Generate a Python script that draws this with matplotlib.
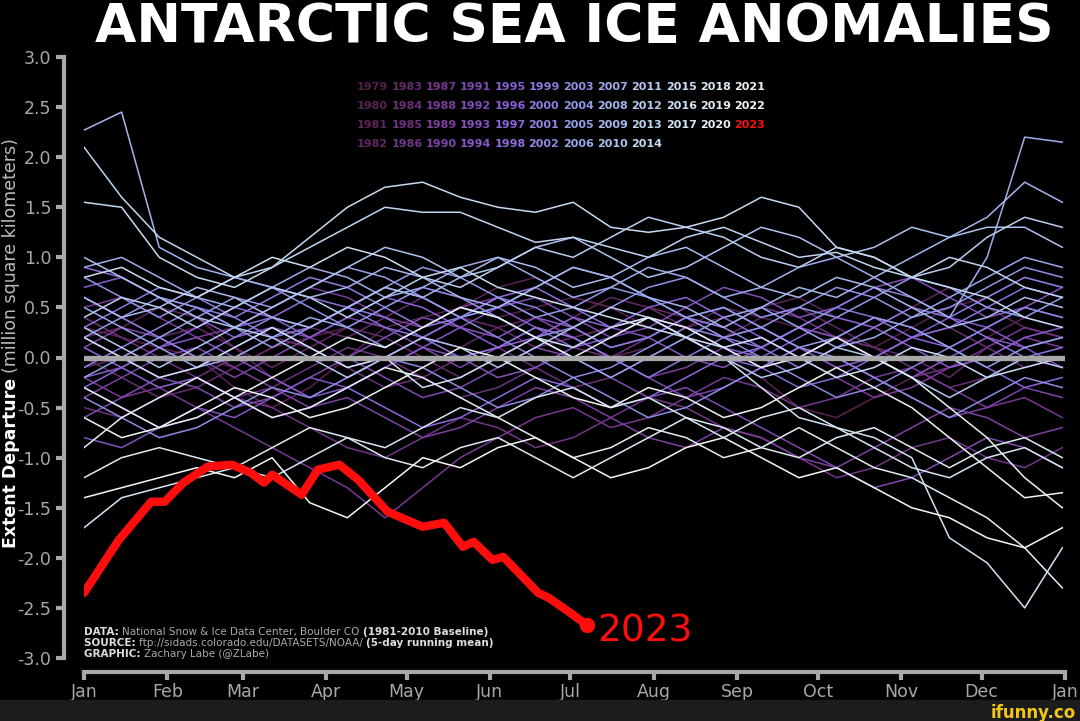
import matplotlib.pyplot as plt
import numpy as np
from matplotlib.colors import LinearSegmentedColormap

# day of year for the sampled values (every 14 days)
days = np.arange(0, 365, 14)

a1979 = [0.3,0.2,0.1,0.0,-0.1,0.1,0.2,0.3,0.5,0.7,0.6,0.4,0.5,0.6,0.5,0.4,0.3,0.5,0.4,0.3,0.2,0.1,0.3,0.5,0.6,0.8,0.7]
a1980 = [0.6,0.4,0.2,0.0,-0.3,-0.5,-0.3,0.0,0.3,0.4,0.5,0.7,0.8,0.6,0.5,0.3,0.2,0.0,-0.2,-0.5,-0.6,-0.4,-0.2,0.0,0.2,0.4,0.3]
a1981 = [0.2,0.3,0.5,0.4,0.1,-0.2,-0.4,-0.2,0.0,0.2,0.1,0.3,0.4,0.2,0.0,0.1,0.3,0.4,0.5,0.6,0.4,0.3,0.5,0.7,0.5,0.3,0.2]
a1982 = [-0.1,0.0,0.2,0.3,0.1,-0.1,0.1,0.3,0.2,0.0,-0.2,0.0,0.2,0.4,0.6,0.5,0.3,0.2,0.4,0.5,0.3,0.1,0.0,-0.2,0.1,0.3,0.2]
a1983 = [0.0,-0.2,-0.4,-0.3,-0.1,0.1,0.3,0.2,0.4,0.6,0.4,0.3,0.1,0.2,0.3,0.5,0.4,0.2,0.3,0.1,-0.1,0.0,0.2,0.3,0.1,-0.1,0.0]
a1984 = [-0.5,-0.6,-0.4,-0.2,0.0,0.2,0.1,-0.1,-0.3,-0.2,0.0,0.1,-0.1,-0.3,-0.2,0.0,0.2,0.1,-0.1,0.0,0.2,0.1,-0.1,-0.3,-0.2,0.0,-0.1]
a1985 = [0.4,0.2,0.0,-0.2,-0.4,-0.3,-0.1,0.1,0.0,-0.2,-0.4,-0.3,-0.1,0.1,0.0,0.2,0.4,0.3,0.5,0.4,0.2,0.0,-0.2,-0.1,0.1,0.3,0.2]
a1986 = [-0.3,-0.5,-0.7,-0.6,-0.4,-0.5,-0.7,-0.9,-1.0,-0.8,-0.6,-0.7,-0.9,-0.8,-0.6,-0.4,-0.5,-0.7,-0.8,-1.0,-1.2,-1.1,-0.9,-0.8,-1.0,-1.1,-0.9]
a1987 = [-0.2,-0.4,-0.3,-0.5,-0.7,-0.9,-1.1,-1.3,-1.6,-1.3,-1.0,-0.8,-0.6,-0.5,-0.7,-0.6,-0.4,-0.2,-0.3,-0.5,-0.4,-0.2,-0.1,-0.3,-0.5,-0.4,-0.6]
a1988 = [0.5,0.6,0.4,0.2,0.3,0.5,0.7,0.6,0.4,0.3,0.5,0.6,0.4,0.2,0.0,-0.2,-0.1,0.1,0.2,0.0,-0.2,-0.4,-0.3,-0.1,0.0,0.2,0.1]
a1989 = [-0.4,-0.2,0.0,0.1,-0.1,-0.3,-0.5,-0.4,-0.6,-0.8,-0.7,-0.5,-0.3,-0.4,-0.6,-0.8,-0.9,-0.7,-0.8,-1.0,-1.1,-0.9,-0.7,-0.5,-0.6,-0.8,-0.7]
a1990 = [0.1,0.3,0.2,0.0,-0.2,0.0,0.2,0.4,0.3,0.1,-0.1,0.1,0.3,0.2,0.0,-0.2,-0.4,-0.3,-0.1,0.1,0.0,-0.2,-0.4,-0.6,-0.5,-0.3,-0.4]
a1991 = [-0.6,-0.4,-0.2,-0.3,-0.5,-0.4,-0.2,0.0,-0.2,-0.4,-0.3,-0.1,0.1,0.0,-0.2,-0.4,-0.3,-0.5,-0.7,-0.9,-1.1,-1.3,-1.2,-1.0,-0.8,-0.9,-1.1]
a1992 = [0.2,0.0,-0.2,-0.1,0.1,0.3,0.2,0.0,0.2,0.4,0.3,0.5,0.6,0.4,0.2,0.3,0.5,0.7,0.6,0.4,0.5,0.7,0.8,0.6,0.4,0.5,0.7]
a1993 = [-0.8,-0.9,-0.7,-0.5,-0.6,-0.4,-0.2,-0.3,-0.1,0.1,0.0,-0.2,-0.1,0.1,0.3,0.2,0.0,-0.1,0.1,0.3,0.2,0.0,-0.2,0.0,0.2,0.1,-0.1]
a1994 = [-0.2,-0.1,0.1,0.2,0.0,-0.2,-0.4,-0.3,-0.1,0.1,0.3,0.2,0.4,0.3,0.1,0.2,0.4,0.5,0.3,0.1,-0.1,0.0,0.2,0.4,0.3,0.1,0.2]
a1995 = [0.7,0.8,0.6,0.4,0.2,0.3,0.1,-0.1,0.0,0.2,0.4,0.5,0.3,0.1,0.2,0.4,0.3,0.1,0.0,0.2,0.4,0.3,0.1,-0.1,0.0,0.2,0.3]
a1996 = [-0.3,-0.1,0.1,0.3,0.5,0.4,0.2,0.4,0.6,0.5,0.3,0.1,0.2,0.4,0.3,0.5,0.6,0.4,0.2,0.0,0.2,0.4,0.3,0.1,0.3,0.5,0.4]
a1997 = [0.1,-0.1,-0.3,-0.2,-0.4,-0.6,-0.5,-0.3,-0.5,-0.7,-0.6,-0.4,-0.2,-0.3,-0.5,-0.4,-0.2,0.0,-0.1,-0.3,-0.2,0.0,0.2,0.1,-0.1,-0.3,-0.2]
a1998 = [0.9,0.8,0.6,0.5,0.3,0.4,0.6,0.5,0.3,0.2,0.4,0.6,0.7,0.5,0.3,0.4,0.2,0.0,0.1,0.3,0.5,0.4,0.2,0.3,0.5,0.7,0.6]
a1999 = [0.3,0.5,0.7,0.6,0.4,0.2,0.3,0.5,0.4,0.2,0.0,0.1,0.3,0.2,0.0,-0.2,0.0,0.2,0.1,-0.1,0.1,0.3,0.5,0.4,0.2,0.0,0.1]
a2000 = [-0.1,0.1,0.3,0.5,0.4,0.6,0.8,0.7,0.5,0.3,0.4,0.6,0.5,0.3,0.1,0.2,0.4,0.3,0.1,0.3,0.5,0.7,0.6,0.4,0.6,0.8,0.7]
a2001 = [0.6,0.4,0.2,0.0,0.2,0.4,0.3,0.5,0.7,0.6,0.4,0.2,0.0,-0.2,-0.1,0.1,0.3,0.2,0.0,-0.2,-0.4,-0.3,-0.1,0.1,0.3,0.5,0.4]
a2002 = [-0.4,-0.6,-0.8,-0.7,-0.5,-0.3,-0.4,-0.2,0.0,-0.1,-0.3,-0.5,-0.4,-0.2,-0.4,-0.6,-0.5,-0.3,-0.1,0.1,0.0,-0.2,-0.4,-0.6,-0.4,-0.2,-0.3]
a2003 = [0.8,0.6,0.4,0.6,0.8,0.7,0.5,0.3,0.5,0.7,0.6,0.4,0.2,0.3,0.5,0.7,0.8,0.6,0.4,0.5,0.7,0.6,0.4,0.5,0.7,0.9,0.8]
a2004 = [0.2,0.4,0.6,0.5,0.3,0.1,0.3,0.5,0.7,0.9,0.8,0.6,0.4,0.5,0.7,0.6,0.4,0.2,0.3,0.5,0.4,0.6,0.8,0.7,0.5,0.4,0.6]
a2005 = [-0.2,0.0,0.2,0.4,0.6,0.5,0.7,0.9,0.8,0.6,0.4,0.5,0.7,0.9,0.8,0.6,0.4,0.5,0.3,0.1,0.2,0.4,0.3,0.1,-0.1,0.1,0.2]
a2006 = [0.5,0.3,0.1,-0.1,0.0,0.2,0.4,0.3,0.1,0.3,0.5,0.4,0.2,0.0,-0.2,0.0,0.2,0.4,0.5,0.3,0.1,0.2,0.4,0.6,0.8,1.0,0.9]
a2007 = [0.9,1.0,0.8,0.6,0.5,0.7,0.9,0.8,0.6,0.7,0.9,1.0,0.8,0.6,0.7,0.9,0.8,0.6,0.7,0.9,1.0,0.8,0.6,0.4,1.0,2.2,2.15]
a2008 = [2.27,2.45,1.1,0.9,0.8,0.7,0.6,0.7,0.9,0.8,0.6,0.5,0.7,0.9,0.8,0.6,0.5,0.3,0.5,0.7,0.6,0.8,1.0,1.2,1.4,1.75,1.55]
a2009 = [0.6,0.4,0.5,0.7,0.6,0.4,0.3,0.5,0.7,0.6,0.8,1.0,0.9,0.7,0.8,1.0,1.1,0.9,0.7,0.6,0.8,0.7,0.5,0.3,0.4,0.6,0.5]
a2010 = [1.0,0.8,0.6,0.4,0.3,0.5,0.7,0.9,1.1,1.0,0.8,0.9,1.1,1.2,1.0,0.8,0.9,1.1,1.3,1.2,1.0,1.1,1.3,1.2,1.3,1.3,1.1]
a2011 = [0.3,0.1,-0.1,0.1,0.3,0.2,0.0,-0.2,0.0,0.2,0.1,-0.1,0.1,0.3,0.5,0.4,0.2,0.0,-0.2,-0.1,0.1,0.0,-0.2,-0.4,-0.2,0.0,-0.1]
a2012 = [0.4,0.6,0.5,0.3,0.5,0.7,0.6,0.4,0.6,0.8,0.7,0.9,1.1,1.0,1.2,1.4,1.3,1.2,1.0,0.9,1.1,1.0,0.8,0.9,1.2,1.4,1.3]
a2013 = [2.1,1.6,1.2,1.0,0.8,0.9,1.1,1.3,1.5,1.45,1.45,1.3,1.15,1.2,1.1,1.0,1.2,1.3,1.15,1.0,1.05,0.9,0.8,1.0,0.9,0.7,0.6]
a2014 = [1.55,1.5,1.0,0.8,0.7,0.9,1.2,1.5,1.7,1.75,1.6,1.5,1.45,1.55,1.3,1.25,1.3,1.4,1.6,1.5,1.1,1.0,0.8,0.7,0.6,0.4,0.3]
a2015 = [0.8,0.9,0.7,0.6,0.8,1.0,0.9,1.1,1.0,0.8,0.9,0.7,0.6,0.5,0.4,0.3,0.2,0.1,0.2,0.0,-0.2,-0.1,0.1,0.0,-0.2,-0.1,0.0]
a2016 = [0.2,0.0,-0.2,-0.1,0.1,0.3,0.1,-0.1,0.0,-0.3,-0.2,0.0,0.2,0.1,0.3,0.4,0.2,0.0,-0.3,-0.6,-0.7,-0.8,-1.0,-1.8,-2.05,-2.5,-1.9]
a2017 = [-1.7,-1.4,-1.3,-1.2,-1.1,-1.2,-1.0,-0.8,-0.9,-0.7,-0.5,-0.6,-0.4,-0.3,-0.5,-0.4,-0.6,-0.8,-0.6,-0.5,-0.7,-0.9,-1.1,-1.2,-1.0,-0.9,-1.1]
a2018 = [-1.2,-1.0,-0.9,-1.0,-1.1,-0.9,-0.7,-0.8,-1.0,-1.1,-0.9,-0.8,-1.0,-1.2,-1.0,-0.8,-0.6,-0.7,-0.9,-1.0,-0.8,-0.7,-0.9,-1.1,-0.9,-0.8,-1.0]
a2019 = [-0.9,-0.6,-0.4,-0.2,-0.4,-0.6,-0.5,-0.3,-0.1,-0.2,-0.4,-0.6,-0.8,-1.0,-0.9,-0.7,-0.8,-1.0,-0.9,-0.7,-0.9,-1.1,-1.2,-1.4,-1.6,-1.9,-2.3]
a2020 = [-0.3,-0.5,-0.7,-0.6,-0.4,-0.2,0.0,0.2,0.1,0.3,0.5,0.4,0.2,0.0,0.2,0.4,0.3,0.1,-0.1,0.0,0.2,0.0,-0.2,-0.5,-0.8,-1.2,-1.5]
a2021 = [-0.6,-0.8,-0.7,-0.5,-0.3,-0.4,-0.6,-0.5,-0.3,-0.1,0.1,0.0,-0.2,-0.4,-0.5,-0.3,-0.4,-0.6,-0.5,-0.3,-0.1,-0.3,-0.5,-0.8,-1.1,-1.4,-1.35]
a2022 = [-1.4,-1.3,-1.2,-1.1,-1.2,-1.0,-1.45,-1.6,-1.3,-1.0,-1.1,-0.9,-0.8,-1.0,-1.2,-1.1,-0.9,-0.8,-1.0,-1.2,-1.1,-1.3,-1.5,-1.6,-1.8,-1.9,-1.7]

series = [a1979, a1980, a1981, a1982, a1983, a1984, a1985, a1986, a1987, a1988,
          a1989, a1990, a1991, a1992, a1993, a1994, a1995, a1996, a1997, a1998,
          a1999, a2000, a2001, a2002, a2003, a2004, a2005, a2006, a2007, a2008,
          a2009, a2010, a2011, a2012, a2013, a2014, a2015, a2016, a2017, a2018,
          a2019, a2020, a2021, a2022]
years = list(range(1979, 2023))

# 2023 so far
d2023 = [0, 13, 25, 30, 37, 46, 55, 62, 67, 70, 81, 87, 95, 102, 113, 126, 134, 141, 145, 152, 156, 169, 173, 182, 187]
v2023 = [-2.35, -1.82, -1.44, -1.44, -1.25, -1.09, -1.07, -1.15, -1.25, -1.17, -1.37, -1.12, -1.07, -1.22,
         -1.54, -1.69, -1.65, -1.89, -1.84, -2.02, -1.99, -2.35, -2.40, -2.57, -2.67]

month_starts = [0, 31, 59, 90, 120, 151, 181, 212, 243, 273, 304, 334, 365]
month_names = ['Jan', 'Feb', 'Mar', 'Apr', 'May', 'Jun', 'Jul', 'Aug', 'Sep', 'Oct', 'Nov', 'Dec', 'Jan']

plt.rcParams['font.family'] = ['DejaVu Sans']
cmap = LinearSegmentedColormap.from_list(
    'ice', ['#55204a', '#7a3a98', '#8a62d8', '#92a0ea', '#c0d8f2', '#f4f8f4'])
gray = '#a8a8a8'

fig = plt.figure(figsize=(10.8, 7.21), dpi=100, facecolor='black')
ax = fig.add_axes([84/1080, 63/721, 981/1080, 601/721])
ax.set_facecolor('black')

n = len(series)
for i, vals in enumerate(series):
    ax.plot(days, vals, color=cmap(i/(n-1)), lw=1.1, zorder=2+i*0.01, solid_joinstyle='round')

ax.axhline(0, color=gray, lw=3.8, zorder=5)
ax.plot(d2023, v2023, color='#ff0d0d', lw=6, zorder=6, solid_capstyle='round', solid_joinstyle='round')
ax.plot(d2023[-1], v2023[-1], 'o', color='#ff0d0d', ms=10, zorder=6)
ax.text(d2023[-1]+4, v2023[-1]-0.07, '2023', color='#ff0d0d', fontsize=27, va='center', ha='left')

ax.set_xlim(0, 365)
ax.set_ylim(-3, 3)
ax.set_yticks(np.arange(-3, 3.01, 0.5))
ax.set_yticklabels(['%.1f' % v for v in np.arange(-3, 3.01, 0.5)])
ax.set_xticks(month_starts)
ax.set_xticklabels(month_names)
for s in ['top', 'right']:
    ax.spines[s].set_visible(False)
ax.spines['left'].set_position(('outward', 14.4))
ax.spines['bottom'].set_position(('outward', 10))
for s in ['left', 'bottom']:
    ax.spines[s].set_color(gray)
    ax.spines[s].set_linewidth(3)
ax.tick_params(colors=gray, width=3, length=6, labelsize=12.5)
ax.tick_params(axis='y', pad=3)
ax.tick_params(axis='x', pad=2)

fig.text(0.532, 1-27/721, 'ANTARCTIC SEA ICE ANOMALIES', color='white', fontsize=38.5,
         fontweight='bold', ha='center', va='center')

# y label with mixed weights
r = fig.canvas.get_renderer()
t1 = fig.text(11/1080, (721-548)/721, 'Extent Departure', color='white', fontweight='bold',
              fontsize=12.5, rotation=90, ha='center', va='bottom')
h = t1.get_window_extent(r).height
fig.text(11/1080, (721-548+h+5)/721, '(million square kilometers)', color='#bbbbbb',
         fontsize=12.5, rotation=90, ha='center', va='bottom')

# year legend
for i, yr in enumerate(years + [2023]):
    if i < 36:
        col, row = i // 4, i % 4
    else:
        col, row = 9 + (i-36) // 3, (i-36) % 3
    c = '#ff1010' if yr == 2023 else cmap((yr-1979)/(n-1))
    fig.text((357 + col*34.3)/1080, 1-(87 + row*19)/721, str(yr), color=c, fontsize=8,
             fontweight='bold', ha='left', va='center')

# source lines
def rich_line(x, y, parts):
    for s, c, w in parts:
        t = fig.text(x/1080, 1-y/721, s, color=c, fontweight=w, fontsize=7.5, va='center')
        x += t.get_window_extent(r).width

rich_line(84, 632, [('DATA: ', '#dddddd', 'bold'),
                    ('National Snow & Ice Data Center, Boulder CO ', '#aaaaaa', 'normal'),
                    ('(1981-2010 Baseline)', '#dddddd', 'bold')])
rich_line(84, 643, [('SOURCE: ', '#dddddd', 'bold'),
                    ('ftp://sidads.colorado.edu/DATASETS/NOAA/ ', '#aaaaaa', 'normal'),
                    ('(5-day running mean)', '#dddddd', 'bold')])
rich_line(84, 654, [('GRAPHIC: ', '#dddddd', 'bold'),
                    ('Zachary Labe (@ZLabe)', '#aaaaaa', 'normal')])

# watermark strip
fig.patches.append(plt.Rectangle((0, 0), 1, 21/721, transform=fig.transFigure,
                                 color='#1c1c1c', zorder=0))
fig.text(1076/1080, 8/721, 'ifunny.co', color='#f5c518', fontsize=12, fontweight='bold',
         ha='right', va='center')

fig.savefig('out.png', dpi=100, facecolor='black')
